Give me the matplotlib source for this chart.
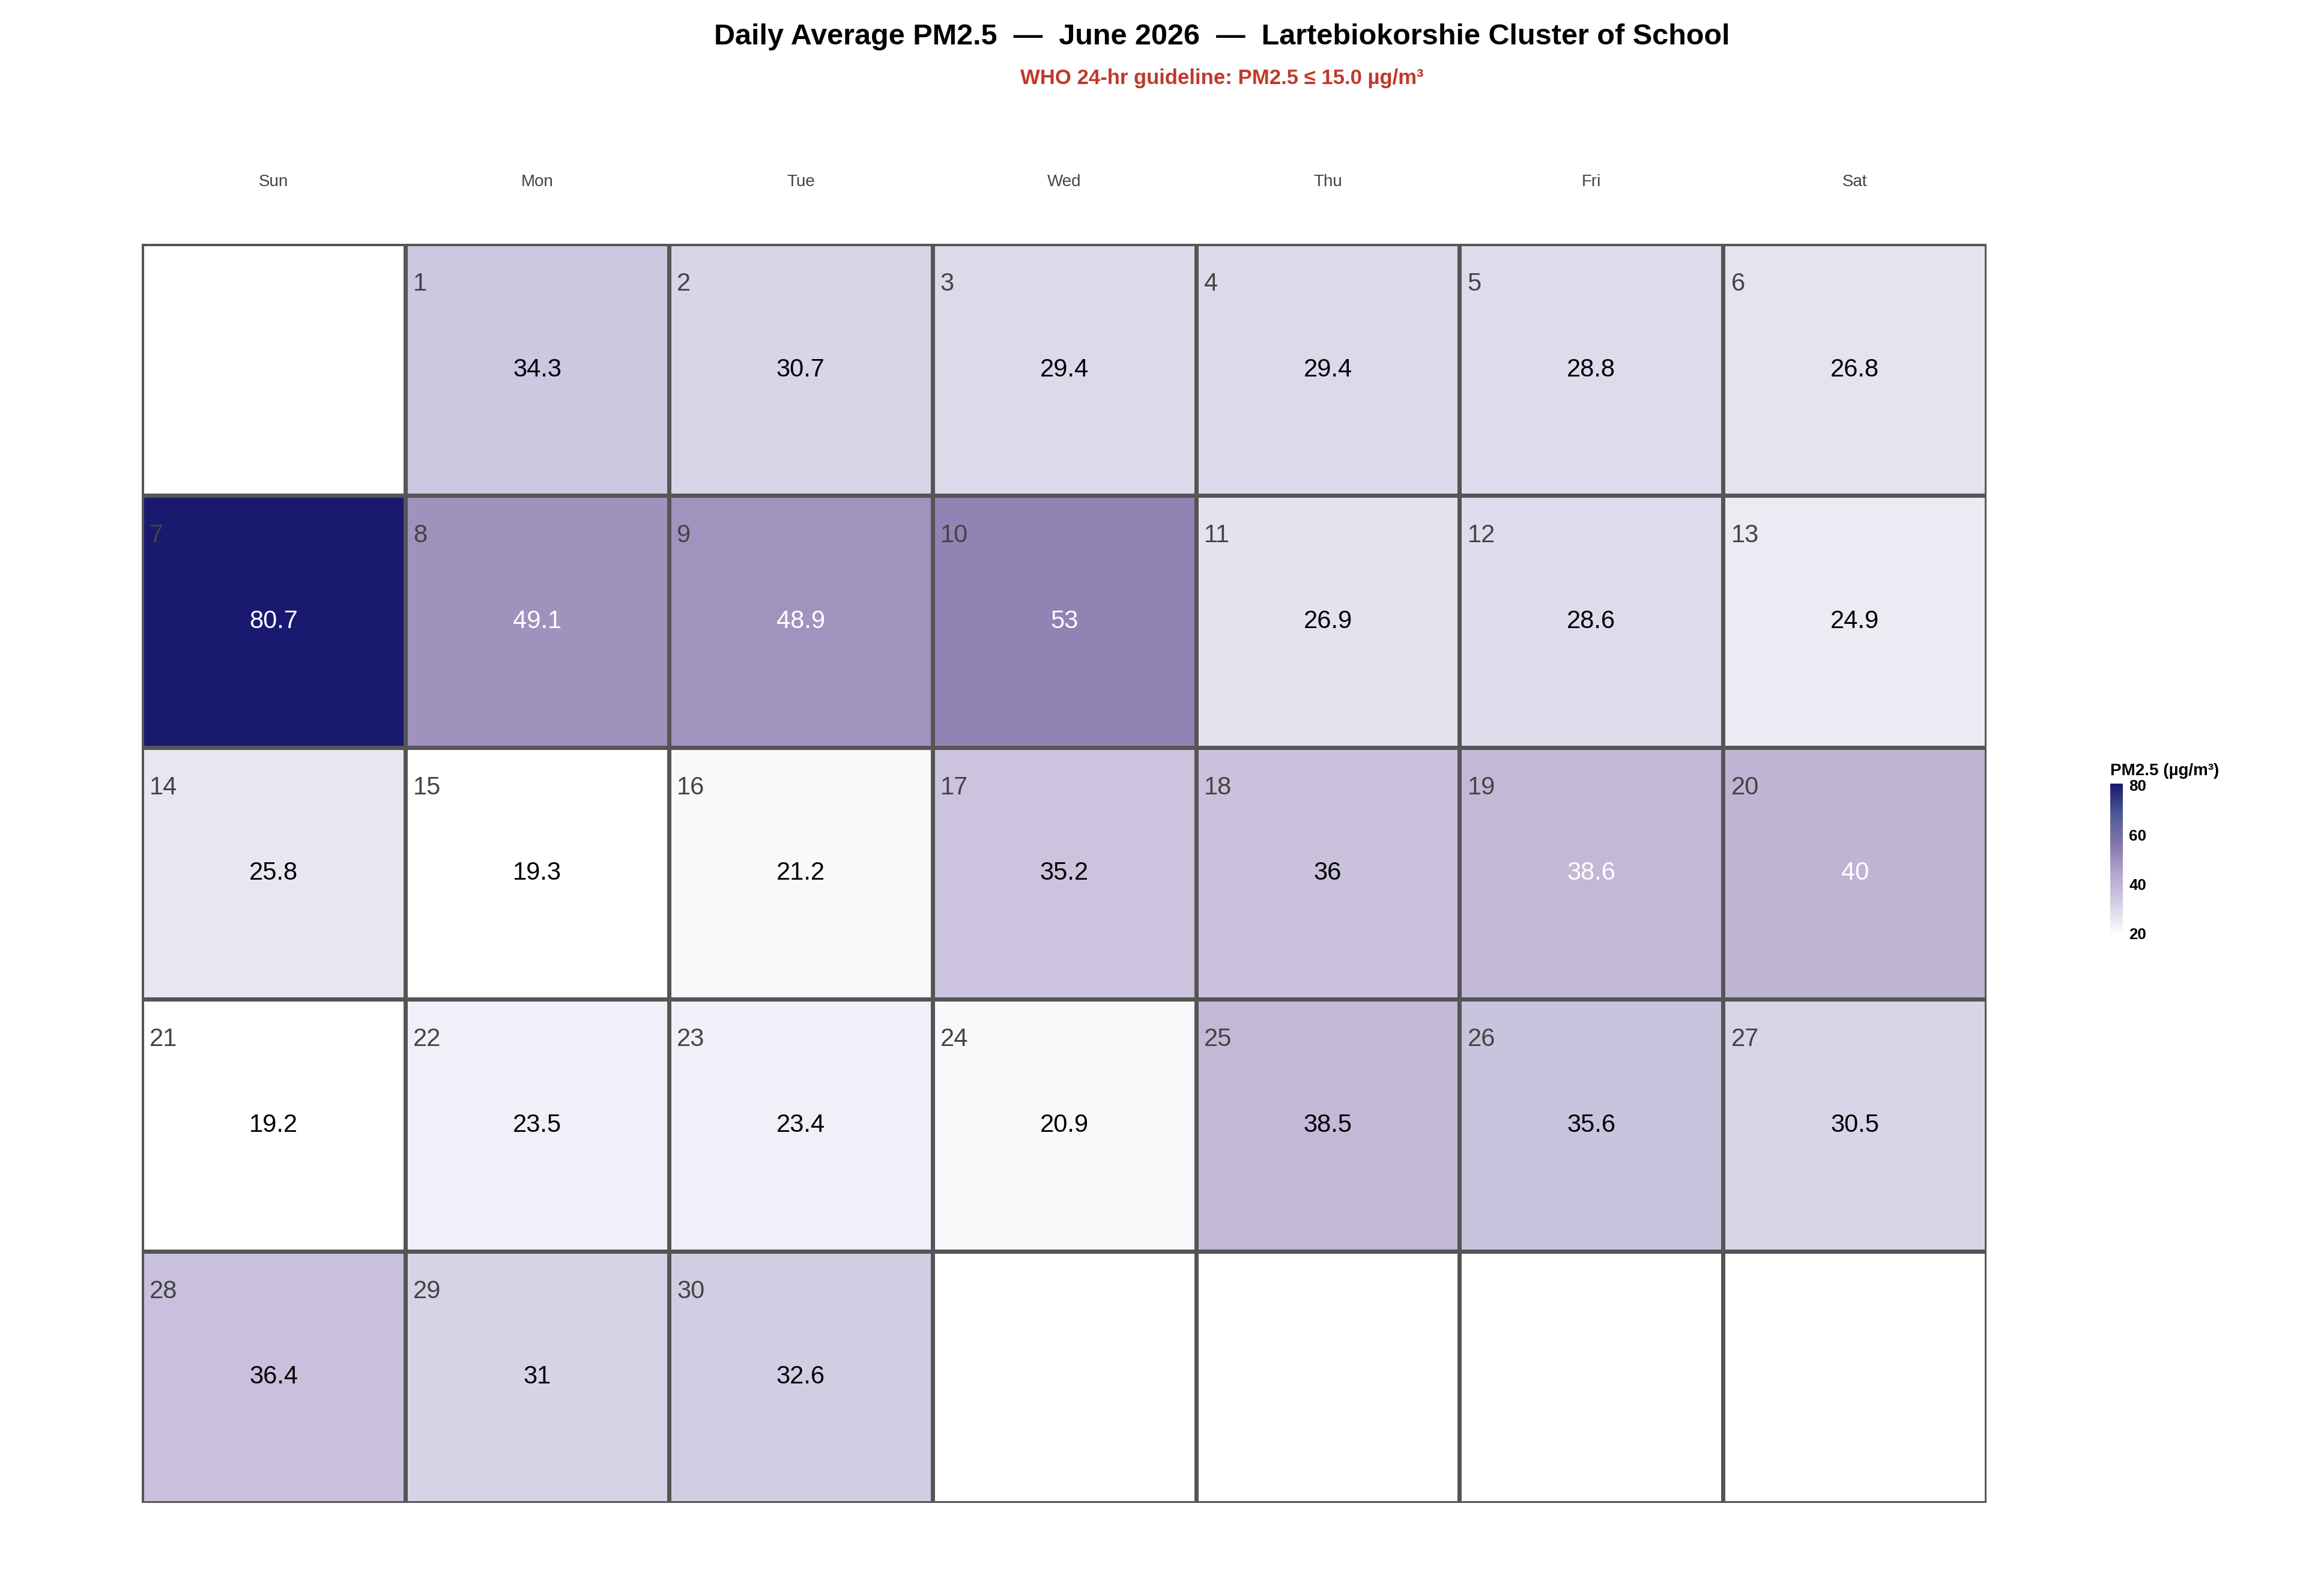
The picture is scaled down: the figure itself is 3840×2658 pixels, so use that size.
import numpy as np
import matplotlib.pyplot as plt
from matplotlib.colors import LinearSegmentedColormap, Normalize

plt.rcParams['font.family'] = ['Liberation Sans', 'DejaVu Sans']

# daily average PM2.5, June 2026 (June 1 is a Monday)
days = list(range(1, 31))
pm25 = [34.3, 30.7, 29.4, 29.4, 28.8, 26.8,
        80.7, 49.1, 48.9, 53.0, 26.9, 28.6, 24.9,
        25.8, 19.3, 21.2, 35.2, 36.0, 38.6, 40.0,
        19.2, 23.5, 23.4, 20.9, 38.5, 35.6, 30.5,
        36.4, 31.0, 32.6]
weekdays = ['Sun', 'Mon', 'Tue', 'Wed', 'Thu', 'Fri', 'Sat']
first_col = 1

n_rows = 5
grid = np.full((n_rows, 7), np.nan)
for d, v in zip(days, pm25):
    k = d - 1 + first_col
    grid[k // 7, k % 7] = v

cmap = LinearSegmentedColormap.from_list(
    'pm', ['#ffffff', '#d6d0e6', '#b3a8cc', '#8577ab', '#4b5a96', '#191970'])
norm = Normalize(vmin=min(pm25), vmax=max(pm25))

fig = plt.figure(figsize=(15.36, 10.632), dpi=250)
ax = fig.add_axes([0.0615, 0.0583, 0.8, 0.789])
mesh = ax.pcolormesh(np.ma.masked_invalid(grid), cmap=cmap, norm=norm,
                     edgecolors='#555555', linewidth=2)
ax.set_xlim(0, 7)
ax.set_ylim(n_rows, 0)
ax.axis('off')

for d, v in zip(days, pm25):
    k = d - 1 + first_col
    r, c = k // 7, k % 7
    ax.text(c + 0.03, r + 0.16, str(d), fontsize=12, color='#444444',
            ha='left', va='center')
    ax.text(c + 0.5, r + 0.5, f'{v:g}', fontsize=12,
            color='white' if v > 38.55 else 'black', ha='center', va='center')

for i, w in enumerate(weekdays):
    fig.text(0.0615 + (i + 0.5) * 0.8 / 7, 0.886, w, fontsize=8,
             color='#444444', ha='center', va='center')

fig.text(0.53, 0.977, 'Daily Average PM2.5  —  June 2026  —  Lartebiokorshie Cluster of School',
         fontsize=14, fontweight='bold', ha='center', va='center')
fig.text(0.53, 0.951, 'WHO 24-hr guideline: PM2.5 ≤ 15.0 µg/m³',
         fontsize=10, fontweight='bold', color='#c0392b', ha='center', va='center')

cax = fig.add_axes([0.915, 0.414, 0.0055, 0.095])
cb = fig.colorbar(mesh, cax=cax, ticks=[20, 40, 60, 80])
cb.outline.set_visible(False)
cb.ax.tick_params(length=0, labelsize=7.5, pad=3)
for t in cb.ax.get_yticklabels():
    t.set_fontweight('bold')
cax.set_title('PM2.5 (µg/m³)', fontsize=8, fontweight='bold', loc='left', pad=4)

fig.savefig('out.png')
